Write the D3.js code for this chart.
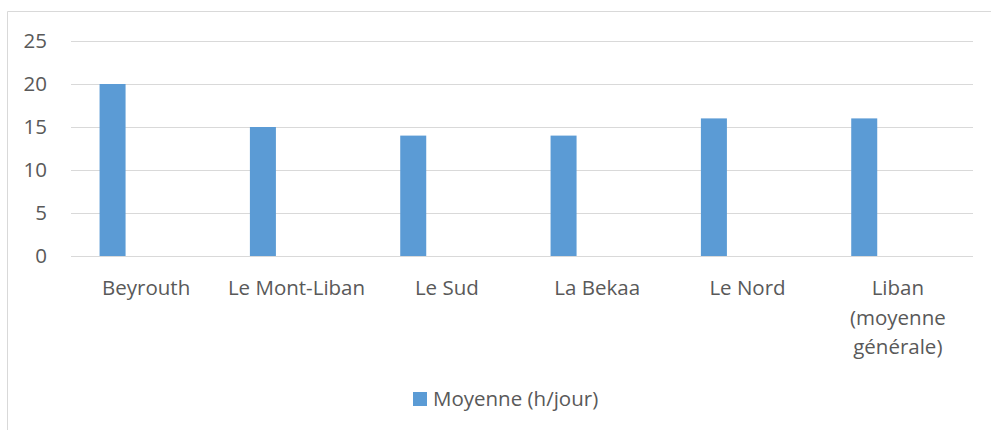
<!DOCTYPE html>
<html>
<head>
<meta charset="UTF-8">
<script src="https://d3js.org/d3.v7.min.js"></script>
<style>
  body { margin: 0; background: #fff; }
  text { font-family: "Open Sans", "Noto Sans", sans-serif; fill: #595959; }
</style>
</head>
<body>
<svg width="991" height="430"></svg>
<script>
// chart data
const regions = ['Beyrouth', 'Le Mont-Liban', 'Le Sud', 'La Bekaa', 'Le Nord', 'Liban\n(moyenne\ngénérale)'];
const hoursPerDay = [20, 15, 14, 14, 16, 16];
const yTicks = [0, 5, 10, 15, 20, 25];
const seriesName = 'Moyenne (h/jour)';

const fontSize = '20.5px';
const svg = d3.select('svg');

// outer chart border (left + top only visible)
svg.append('path')
  .attr('d', 'M7.5,430 V11.5 H991')
  .attr('fill', 'none')
  .attr('stroke', '#D9D9D9')
  .attr('stroke-width', 1);

const margin = { top: 41, left: 71 };
const plotW = 973 - margin.left;
const plotH = 256 - margin.top;

const g = svg.append('g').attr('transform', `translate(${margin.left},${margin.top})`);

const x = d3.scaleBand().domain(regions).range([0, plotW]).padding(0);
const y = d3.scaleLinear().domain([0, 25]).range([plotH, 0]);

// gridlines
g.selectAll('line.grid')
  .data(yTicks)
  .enter().append('line')
  .attr('x1', 0).attr('x2', plotW)
  .attr('y1', d => Math.round(y(d)) + 0.5)
  .attr('y2', d => Math.round(y(d)) + 0.5)
  .attr('stroke', '#D9D9D9')
  .attr('stroke-width', 1);

// y axis labels
g.selectAll('text.ytick')
  .data(yTicks)
  .enter().append('text')
  .attr('x', -24)
  .attr('y', d => y(d))
  .attr('dy', '0.35em')
  .attr('text-anchor', 'end')
  .attr('font-size', fontSize)
  .text(d => d);

// bars (sit left of the band centre, as in the original clustered layout)
const bw = x.bandwidth();
g.selectAll('rect.bar')
  .data(hoursPerDay)
  .enter().append('rect')
  .attr('x', (d, i) => x(regions[i]) + bw * 0.19)
  .attr('width', bw * 0.173)
  .attr('y', d => y(d))
  .attr('height', d => y(0) - y(d))
  .attr('fill', '#5B9BD5');

// category labels
const cat = g.selectAll('text.cat')
  .data(regions)
  .enter().append('text')
  .attr('text-anchor', 'middle')
  .attr('font-size', fontSize)
  .attr('x', d => x(d) + bw / 2)
  .attr('y', plotH + 39);
cat.each(function(d) {
  const lines = d.split('\n');
  d3.select(this).selectAll('tspan')
    .data(lines)
    .enter().append('tspan')
    .attr('x', x(d) + bw / 2)
    .attr('dy', (l, i) => i === 0 ? 0 : 29.5)
    .text(l => l);
});

// legend
svg.append('rect')
  .attr('x', 413).attr('y', 392)
  .attr('width', 14).attr('height', 14)
  .attr('fill', '#5B9BD5');
svg.append('text')
  .attr('x', 433).attr('y', 399)
  .attr('dy', '0.35em')
  .attr('font-size', fontSize)
  .text(seriesName);
</script>
</body>
</html>
